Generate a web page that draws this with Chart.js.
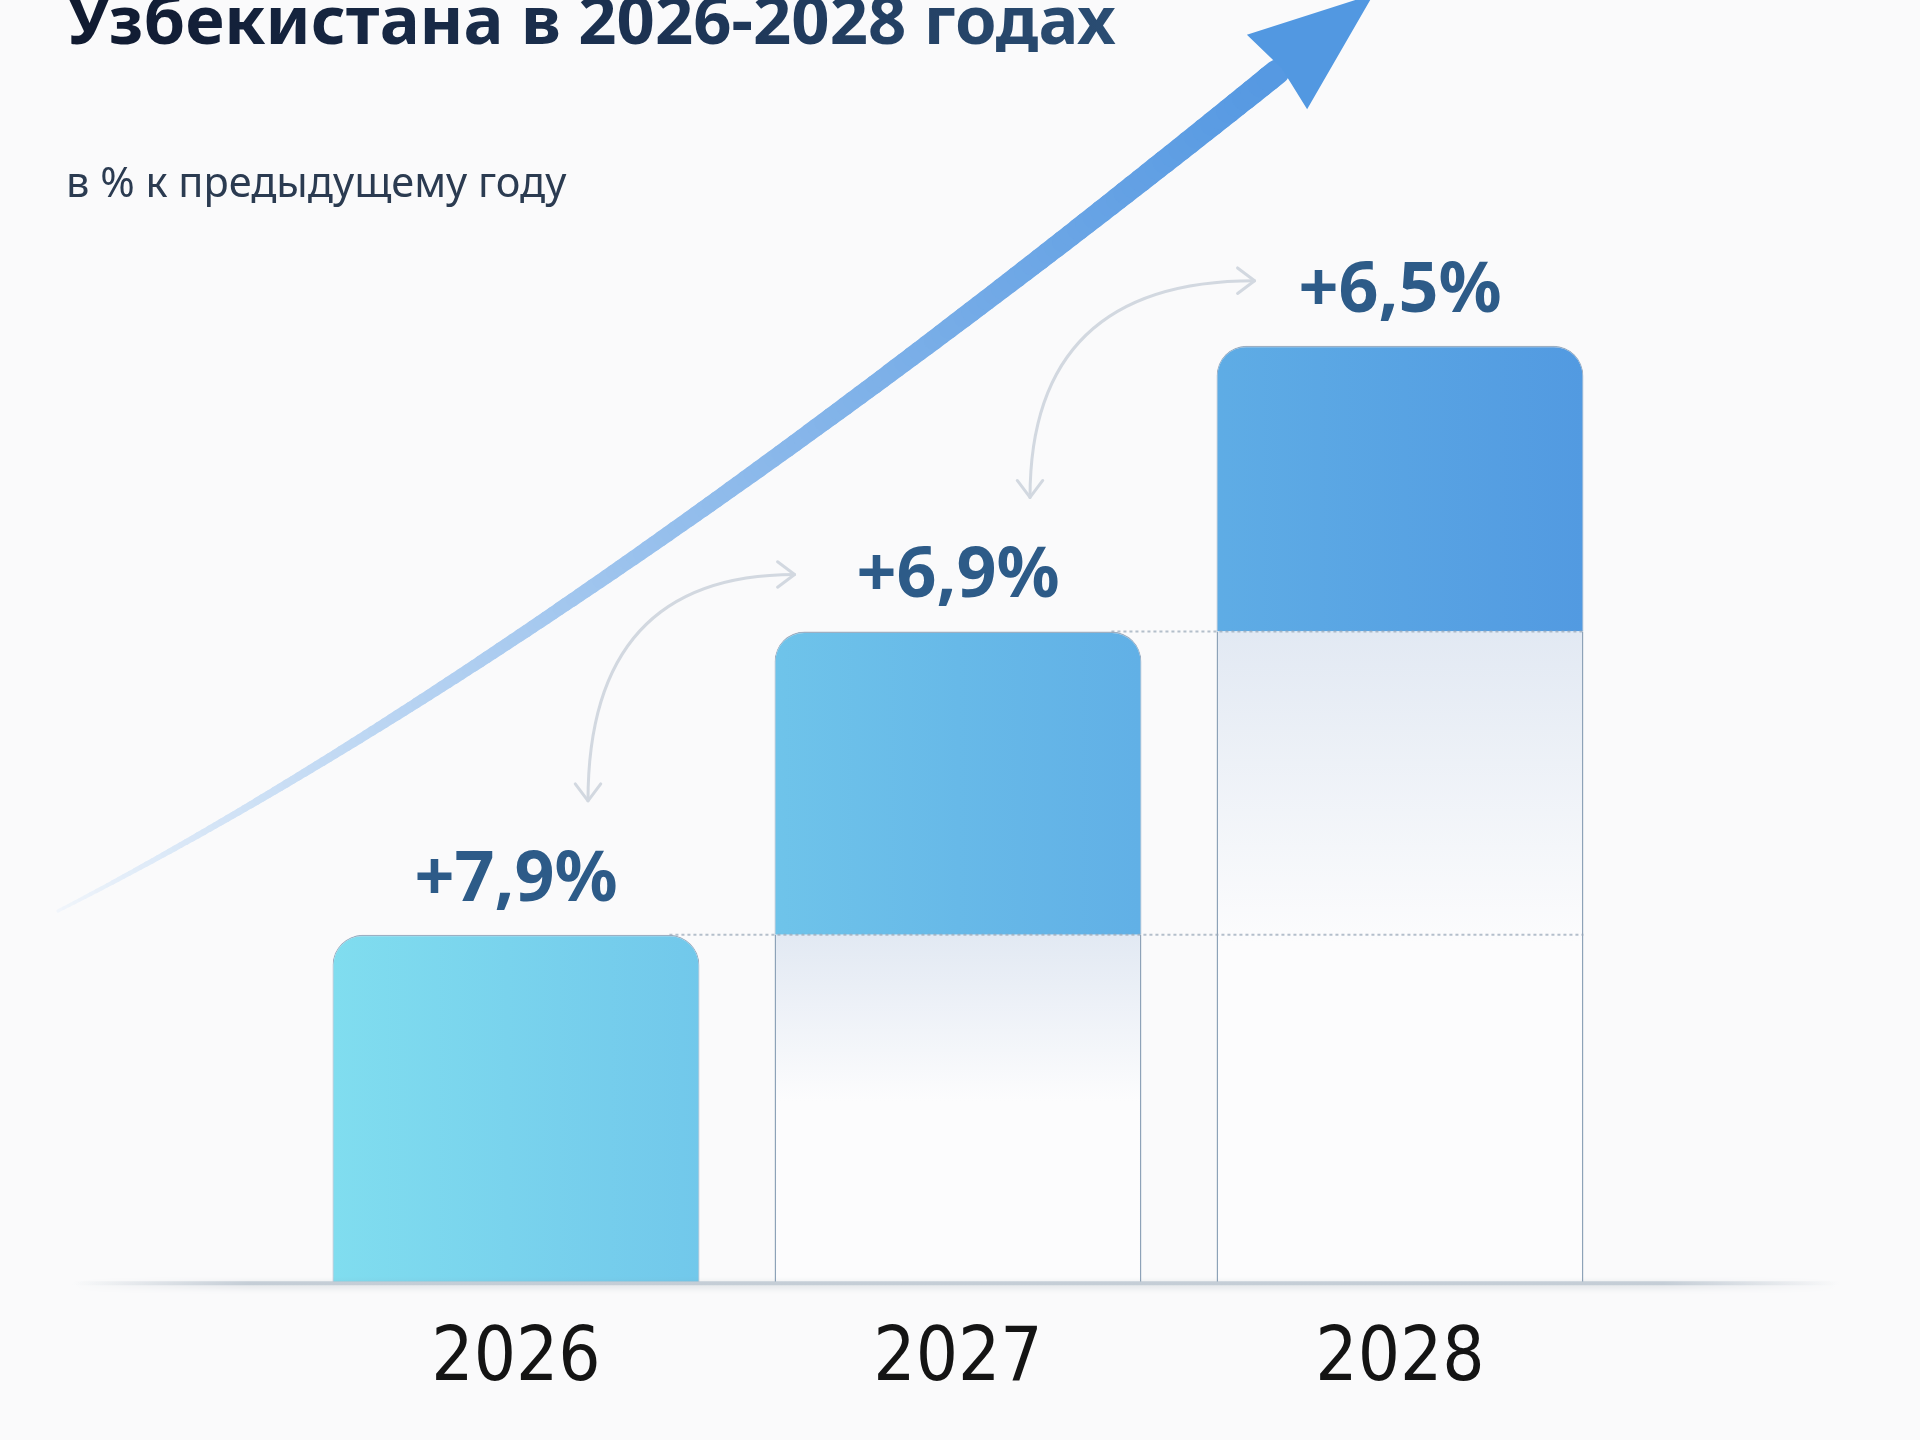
<!DOCTYPE html>
<html lang="ru">
<head>
<meta charset="utf-8">
<title>Рост экономики Узбекистана в 2026-2028 годах</title>
<script src="https://cdn.jsdelivr.net/npm/chart.js@4.4.1/dist/chart.umd.min.js"></script>
<style>
    html, body { margin: 0; padding: 0; background: #fafafb; }
    #wrap { position: relative; width: 1920px; height: 1440px; overflow: hidden; }
    #growth-chart { position: absolute; left: 0; top: 0; }
    .title {
        position: absolute; left: 67px; top: -15px;
        font: 700 67px "Noto Sans", sans-serif; line-height: 1; white-space: nowrap;
        background: linear-gradient(90deg, #101a30 0%, #1c3252 55%, #2a4d73 100%);
        -webkit-background-clip: text; background-clip: text; color: transparent;
    }
    .subtitle {
        position: absolute; left: 66px; top: 161px;
        font: 400 41.5px "Noto Sans", sans-serif; line-height: 1; white-space: nowrap;
        color: #2b3b51;
    }
</style>
</head>
<body>
<div id="wrap">
    <canvas id="growth-chart" width="1920" height="1440"></canvas>
    <div class="title">Узбекистана в 2026-2028 годах</div>
    <div class="subtitle">в % к предыдущему году</div>
</div>
<script>
// Chart data
const years = ['2026', '2027', '2028'];
const growth = [7.9, 6.9, 6.5];          // прирост, % к предыдущему году
const baseLevel = [0, 7.9, 14.8];        // накопленный прирост прошлых лет (белая часть столбца)
const growthLabels = growth.map(v => '+' + v.toFixed(1).replace('.', ',') + '%');

const BG = '#fafafb';

// Horizontal cyan -> blue gradient shared by the growth bars
function growthFill(ctx) {
    const chart = ctx.chart;
    const area = chart.chartArea;
    if (!area || !isFinite(area.left) || !isFinite(area.right) || area.right <= area.left) return '#6cbde9';
    const g = chart.ctx.createLinearGradient(area.left + 38, 0, area.right - 36, 0);
    g.addColorStop(0, '#80ddef');
    g.addColorStop(0.5, '#67b9e8');
    g.addColorStop(1, '#529ae1');
    return g;
}

// White base part with a soft grey-blue tint fading down from its top
function baseFill(ctx) {
    const chart = ctx.chart;
    if (ctx.type !== 'data' || !chart.scales.y) return '#fcfcfd';
    const y = chart.scales.y;
    const top = y.getPixelForValue(baseLevel[ctx.dataIndex]);
    const bottom = y.getPixelForValue(0);
    if (!isFinite(top) || !isFinite(bottom) || bottom - top < 1) return '#fcfcfd';
    const g = chart.ctx.createLinearGradient(0, top, 0, top + (bottom - top) * 0.48);
    g.addColorStop(0, '#e2e9f3');
    g.addColorStop(1, '#fcfcfd');
    return g;
}

function mix(a, b, t) {
    return a.map((v, i) => Math.round(v + (b[i] - v) * t));
}

// Big decorative trend arrow behind the bars
const trendArrow = {
    id: 'trendArrow',
    beforeDatasetsDraw(chart) {
        const c = chart.ctx;
        const p0 = { x: 58, y: 911 }, p1 = { x: 545, y: 662 }, p2 = { x: 1277, y: 72 };
        const bez = t => ({
            x: (1 - t) * (1 - t) * p0.x + 2 * t * (1 - t) * p1.x + t * t * p2.x,
            y: (1 - t) * (1 - t) * p0.y + 2 * t * (1 - t) * p1.y + t * t * p2.y
        });
        const from = [242, 246, 251], to = [86, 153, 226];
        const n = 180;
        c.save();
        c.lineCap = 'round';
        let prev = bez(0);
        for (let i = 1; i <= n; i++) {
            const t = i / n;
            const pt = bez(t);
            const rgb = mix(from, to, Math.pow(t, 0.9));
            c.beginPath();
            c.moveTo(prev.x, prev.y);
            c.lineTo(pt.x, pt.y);
            c.lineWidth = 3 + 22 * t;
            c.strokeStyle = `rgb(${rgb.join(',')})`;
            c.stroke();
            prev = pt;
        }
        // arrow head
        const dx = p2.x - p1.x, dy = p2.y - p1.y;
        const len = Math.hypot(dx, dy);
        const ux = dx / len, uy = dy / len;
        const px = -uy, py = ux;
        c.beginPath();
        c.moveTo(p2.x + ux * 124, p2.y + uy * 124);
        c.lineTo(p2.x + px * 48, p2.y + py * 48);
        c.lineTo(p2.x + ux * 6, p2.y + uy * 6);
        c.lineTo(p2.x - px * 48, p2.y - py * 48);
        c.closePath();
        c.fillStyle = '#5298e1';
        c.fill();
        c.restore();
    }
};

function chevron(c, x, y, ux, uy) {
    const s = 17, k = 0.75;
    c.beginPath();
    c.moveTo(x - ux * s + uy * s * k, y - uy * s - ux * s * k);
    c.lineTo(x, y);
    c.lineTo(x - ux * s - uy * s * k, y - uy * s + ux * s * k);
    c.stroke();
}

// Dotted level lines, grey curved arrows, value labels and base line
const decorations = {
    id: 'decorations',
    afterDatasetsDraw(chart) {
        const c = chart.ctx;
        const bars = chart.getDatasetMeta(1).data;
        const area = chart.chartArea;
        c.save();

        // dotted levels from previous bar tops
        c.setLineDash([3, 3]);
        c.lineWidth = 2;
        c.strokeStyle = 'rgba(150,165,182,0.7)';
        for (let i = 0; i < bars.length - 1; i++) {
            const b = bars[i];
            const last = bars[bars.length - 1];
            c.beginPath();
            c.moveTo(b.x + b.width / 2 - 30, b.y);
            c.lineTo(last.x + last.width / 2, b.y);
            c.stroke();
        }
        c.setLineDash([]);

        // grey curved double arrows between labels
        c.strokeStyle = '#d2d8e0';
        c.lineWidth = 3;
        c.lineCap = 'round';
        c.lineJoin = 'round';
        for (let i = 0; i < bars.length - 1; i++) {
            const a = bars[i], b = bars[i + 1];
            const from = { x: a.x + 72, y: a.y - 134 };
            const to = { x: b.x - b.width / 2 + (i === 0 ? 20 : 38), y: b.y - 57 - i * 8 };
            c.beginPath();
            c.moveTo(from.x, from.y);
            c.quadraticCurveTo(from.x, to.y, to.x, to.y);
            c.stroke();
            chevron(c, from.x, from.y, 0, 1);
            chevron(c, to.x, to.y, 1, 0);
        }

        // value labels
        c.font = '700 70px "Noto Sans", sans-serif';
        c.fillStyle = '#2d5b88';
        c.textAlign = 'center';
        c.textBaseline = 'alphabetic';
        bars.forEach((b, i) => {
            c.fillText(growthLabels[i], b.x, b.y - 34);
        });

        // soft base line
        const y = area.bottom + 1;
        const g = c.createLinearGradient(72, 0, 1840, 0);
        g.addColorStop(0, 'rgba(196,205,214,0)');
        g.addColorStop(0.1, 'rgba(190,200,210,0.85)');
        g.addColorStop(0.9, 'rgba(190,200,210,0.85)');
        g.addColorStop(1, 'rgba(196,205,214,0)');
        c.shadowColor = 'rgba(120,135,150,0.35)';
        c.shadowBlur = 6;
        c.shadowOffsetY = 2;
        c.beginPath();
        c.moveTo(72, y);
        c.lineTo(1840, y);
        c.lineWidth = 4;
        c.lineCap = 'butt';
        c.strokeStyle = g;
        c.stroke();
        c.restore();
    }
};

const bgFill = {
    id: 'bgFill',
    beforeDraw(chart) {
        const c = chart.ctx;
        c.save();
        c.fillStyle = BG;
        c.fillRect(0, 0, chart.width, chart.height);
        c.restore();
    }
};

new Chart(document.getElementById('growth-chart'), {
    type: 'bar',
    data: {
        labels: years,
        datasets: [
            {
                label: 'Уровень прошлых лет',
                data: baseLevel,
                backgroundColor: baseFill,
                borderColor: '#8da2b8',
                borderWidth: { left: 1.5, right: 1.5, top: 0, bottom: 0 },
                borderSkipped: false,
                stack: 'gdp'
            },
            {
                label: 'Прирост',
                data: growth,
                backgroundColor: growthFill,
                borderColor: 'rgba(62,100,140,0.5)',
                borderWidth: { left: 1, right: 1, top: 1.5, bottom: 0 },
                borderSkipped: false,
                borderRadius: { topLeft: 30, topRight: 30, bottomLeft: 0, bottomRight: 0 },
                stack: 'gdp'
            }
        ]
    },
    options: {
        responsive: false,
        devicePixelRatio: 1,
        animation: false,
        datasets: {
            bar: { categoryPercentage: 1, barPercentage: 0.83 }
        },
        layout: {
            padding: { left: 295, right: 299, top: 183, bottom: 1 }
        },
        plugins: {
            legend: { display: false },
            tooltip: { enabled: false }
        },
        scales: {
            x: {
                stacked: true,
                grid: { display: false, drawTicks: false },
                border: { display: false },
                ticks: {
                    color: '#141414',
                    padding: 34,
                    font: { family: '"Liberation Sans Narrow", "DejaVu Sans Condensed", sans-serif', size: 74 }
                }
            },
            y: {
                stacked: true,
                display: false,
                min: 0,
                max: 25
            }
        }
    },
    plugins: [bgFill, trendArrow, decorations]
});
</script>
</body>
</html>
